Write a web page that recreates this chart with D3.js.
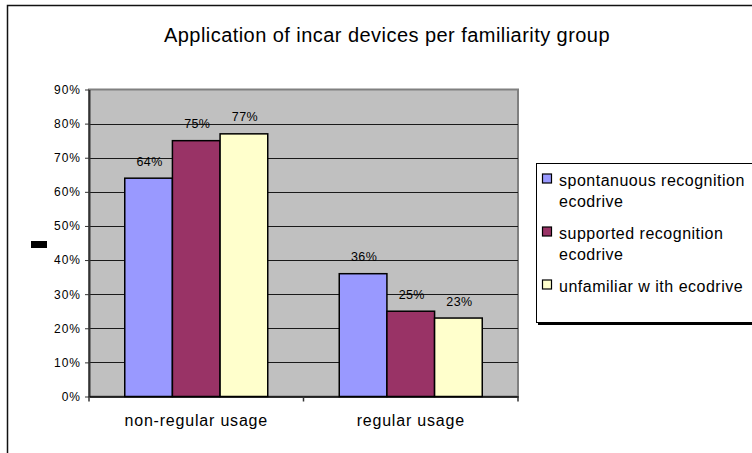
<!DOCTYPE html>
<html>
<head>
<meta charset="utf-8">
<script src="https://cdn.jsdelivr.net/npm/d3@7"></script>
<style>
  html, body { margin: 0; padding: 0; background: #fff; }
  svg { display: block; font-family: "Liberation Sans", Arial, sans-serif; }
</style>
</head>
<body>
<svg id="chart" width="752" height="453"></svg>
<script>
// Chart data
const categories = ["non-regular usage", "regular usage"];
const seriesNames = ["spontanuous recognition ecodrive", "supported recognition ecodrive", "unfamiliar w ith ecodrive"];
const seriesLegendLines = [["spontanuous recognition", "ecodrive"], ["supported recognition", "ecodrive"], ["unfamiliar w ith ecodrive"]];
const spontaneous = [0.64, 0.36];
const supported = [0.75, 0.25];
const unfamiliar = [0.77, 0.23];
const yTicks = [0, 0.1, 0.2, 0.3, 0.4, 0.5, 0.6, 0.7, 0.8, 0.9];
const seriesColors = ["#9999FF", "#993366", "#FFFFCC"];
const titleText = "Application of incar devices per familiarity group";

const series = [spontaneous, supported, unfamiliar];

const svg = d3.select("#chart");

// outer chart frame (extends past the window)
svg.append("rect")
  .attr("x", 7.5).attr("y", 5.5)
  .attr("width", 800).attr("height", 500)
  .attr("fill", "#fff").attr("stroke", "#111").attr("stroke-width", 1.5);

// title
svg.append("text")
  .attr("x", 387).attr("y", 42)
  .attr("text-anchor", "middle")
  .attr("font-size", 20)
  .attr("letter-spacing", 0.45)
  .attr("fill", "#000")
  .text(titleText);

const plot = { left: 89, right: 518, top: 89.5, bottom: 396.5 };

const x0 = d3.scaleBand()
  .domain(categories)
  .range([plot.left, plot.right])
  .paddingInner(0).paddingOuter(0);

// three bars per category, gap of 1.5 bar widths shared on both sides
const x1 = d3.scaleBand()
  .domain(d3.range(series.length))
  .range([0, x0.bandwidth()])
  .paddingInner(0)
  .paddingOuter(0.75);

const y = d3.scaleLinear().domain([0, 0.9]).range([plot.bottom, plot.top]);

// plot area background
svg.append("rect")
  .attr("x", plot.left).attr("y", plot.top)
  .attr("width", plot.right - plot.left).attr("height", plot.bottom - plot.top)
  .attr("fill", "#C0C0C0")
  .attr("stroke", "#808080").attr("stroke-width", 2);

// gridlines
svg.append("g")
  .selectAll("line")
  .data(yTicks.filter(t => t > 0 && t < 0.9))
  .join("line")
  .attr("x1", plot.left).attr("x2", plot.right)
  .attr("y1", d => Math.round(y(d)) + 0.5).attr("y2", d => Math.round(y(d)) + 0.5)
  .attr("stroke", "#1a1a1a").attr("stroke-width", 1);

// bars
const groups = svg.append("g")
  .selectAll("g")
  .data(categories)
  .join("g")
  .attr("transform", d => `translate(${x0(d)},0)`);

groups.selectAll("rect")
  .data((c, ci) => series.map((s, si) => ({ si, v: s[ci] })))
  .join("rect")
  .attr("x", d => x1(d.si))
  .attr("y", d => y(d.v))
  .attr("width", x1.bandwidth())
  .attr("height", d => y(0) - y(d.v))
  .attr("fill", d => seriesColors[d.si])
  .attr("stroke", "#000").attr("stroke-width", 1.5);

// value labels
groups.selectAll("text")
  .data((c, ci) => series.map((s, si) => ({ si, v: s[ci] })))
  .join("text")
  .attr("x", d => x1(d.si) + x1.bandwidth() / 2 + 1)
  .attr("y", d => y(d.v) - 12.5)
  .attr("text-anchor", "middle")
  .attr("font-size", 12.5)
  .attr("letter-spacing", 0.4)
  .attr("fill", "#000")
  .text(d => d3.format(".0%")(d.v));

// y axis
const yAxis = d3.axisLeft(y)
  .tickValues(yTicks)
  .tickFormat(d3.format(".0%"))
  .tickSize(4)
  .tickSizeOuter(0)
  .tickPadding(4);

const gy = svg.append("g")
  .attr("transform", `translate(${plot.left},0)`)
  .call(yAxis);
gy.select(".domain").attr("stroke", "#333").attr("stroke-width", 2);
gy.selectAll(".tick line").attr("stroke", "#333");
gy.selectAll(".tick text")
  .attr("font-size", 12)
  .attr("letter-spacing", 1)
  .attr("font-family", "'Liberation Sans', Arial, sans-serif")
  .attr("fill", "#000");

// x axis
const xAxis = d3.axisBottom(x0).tickSize(0).tickPadding(18);
const gx = svg.append("g")
  .attr("transform", `translate(0,${plot.bottom})`)
  .call(xAxis);
gx.select(".domain").attr("stroke", "#000").attr("stroke-width", 1.5);
gx.selectAll(".tick text")
  .attr("font-size", 16)
  .attr("letter-spacing", 0.8)
  .attr("font-family", "'Liberation Sans', Arial, sans-serif")
  .attr("fill", "#000");
// category separator ticks
svg.append("g")
  .selectAll("line")
  .data([plot.left, plot.left + x0.bandwidth(), plot.right])
  .join("line")
  .attr("x1", d => d).attr("x2", d => d)
  .attr("y1", plot.bottom).attr("y2", plot.bottom + 5)
  .attr("stroke", "#333").attr("stroke-width", 1.5);

// collapsed y-axis title mark
svg.append("rect")
  .attr("x", 31).attr("y", 241)
  .attr("width", 16).attr("height", 7)
  .attr("fill", "#000");

// legend
const legend = svg.append("g");
legend.append("rect")
  .attr("x", 538).attr("y", 165)
  .attr("width", 230).attr("height", 160)
  .attr("fill", "#000");
legend.append("rect")
  .attr("x", 536.5).attr("y", 163.5)
  .attr("width", 230).attr("height", 159)
  .attr("fill", "#fff").attr("stroke", "#000").attr("stroke-width", 1);

const itemTop = [186, 239, 292];
const item = legend.selectAll("g.item")
  .data(seriesNames)
  .join("g")
  .attr("class", "item");
item.append("rect")
  .attr("x", 542.5)
  .attr("y", (d, i) => itemTop[i] - 12)
  .attr("width", 9).attr("height", 9)
  .attr("fill", (d, i) => seriesColors[i])
  .attr("stroke", "#000").attr("stroke-width", 1.2);
item.append("text")
  .attr("font-size", 16)
  .attr("letter-spacing", 0.5)
  .attr("fill", "#000")
  .selectAll("tspan")
  .data((d, i) => seriesLegendLines[i].map(l => ({ l, i })))
  .join("tspan")
  .attr("x", 559)
  .attr("y", (d, j) => itemTop[d.i] + j * 20.5)
  .text(d => d.l);
</script>
</body>
</html>
